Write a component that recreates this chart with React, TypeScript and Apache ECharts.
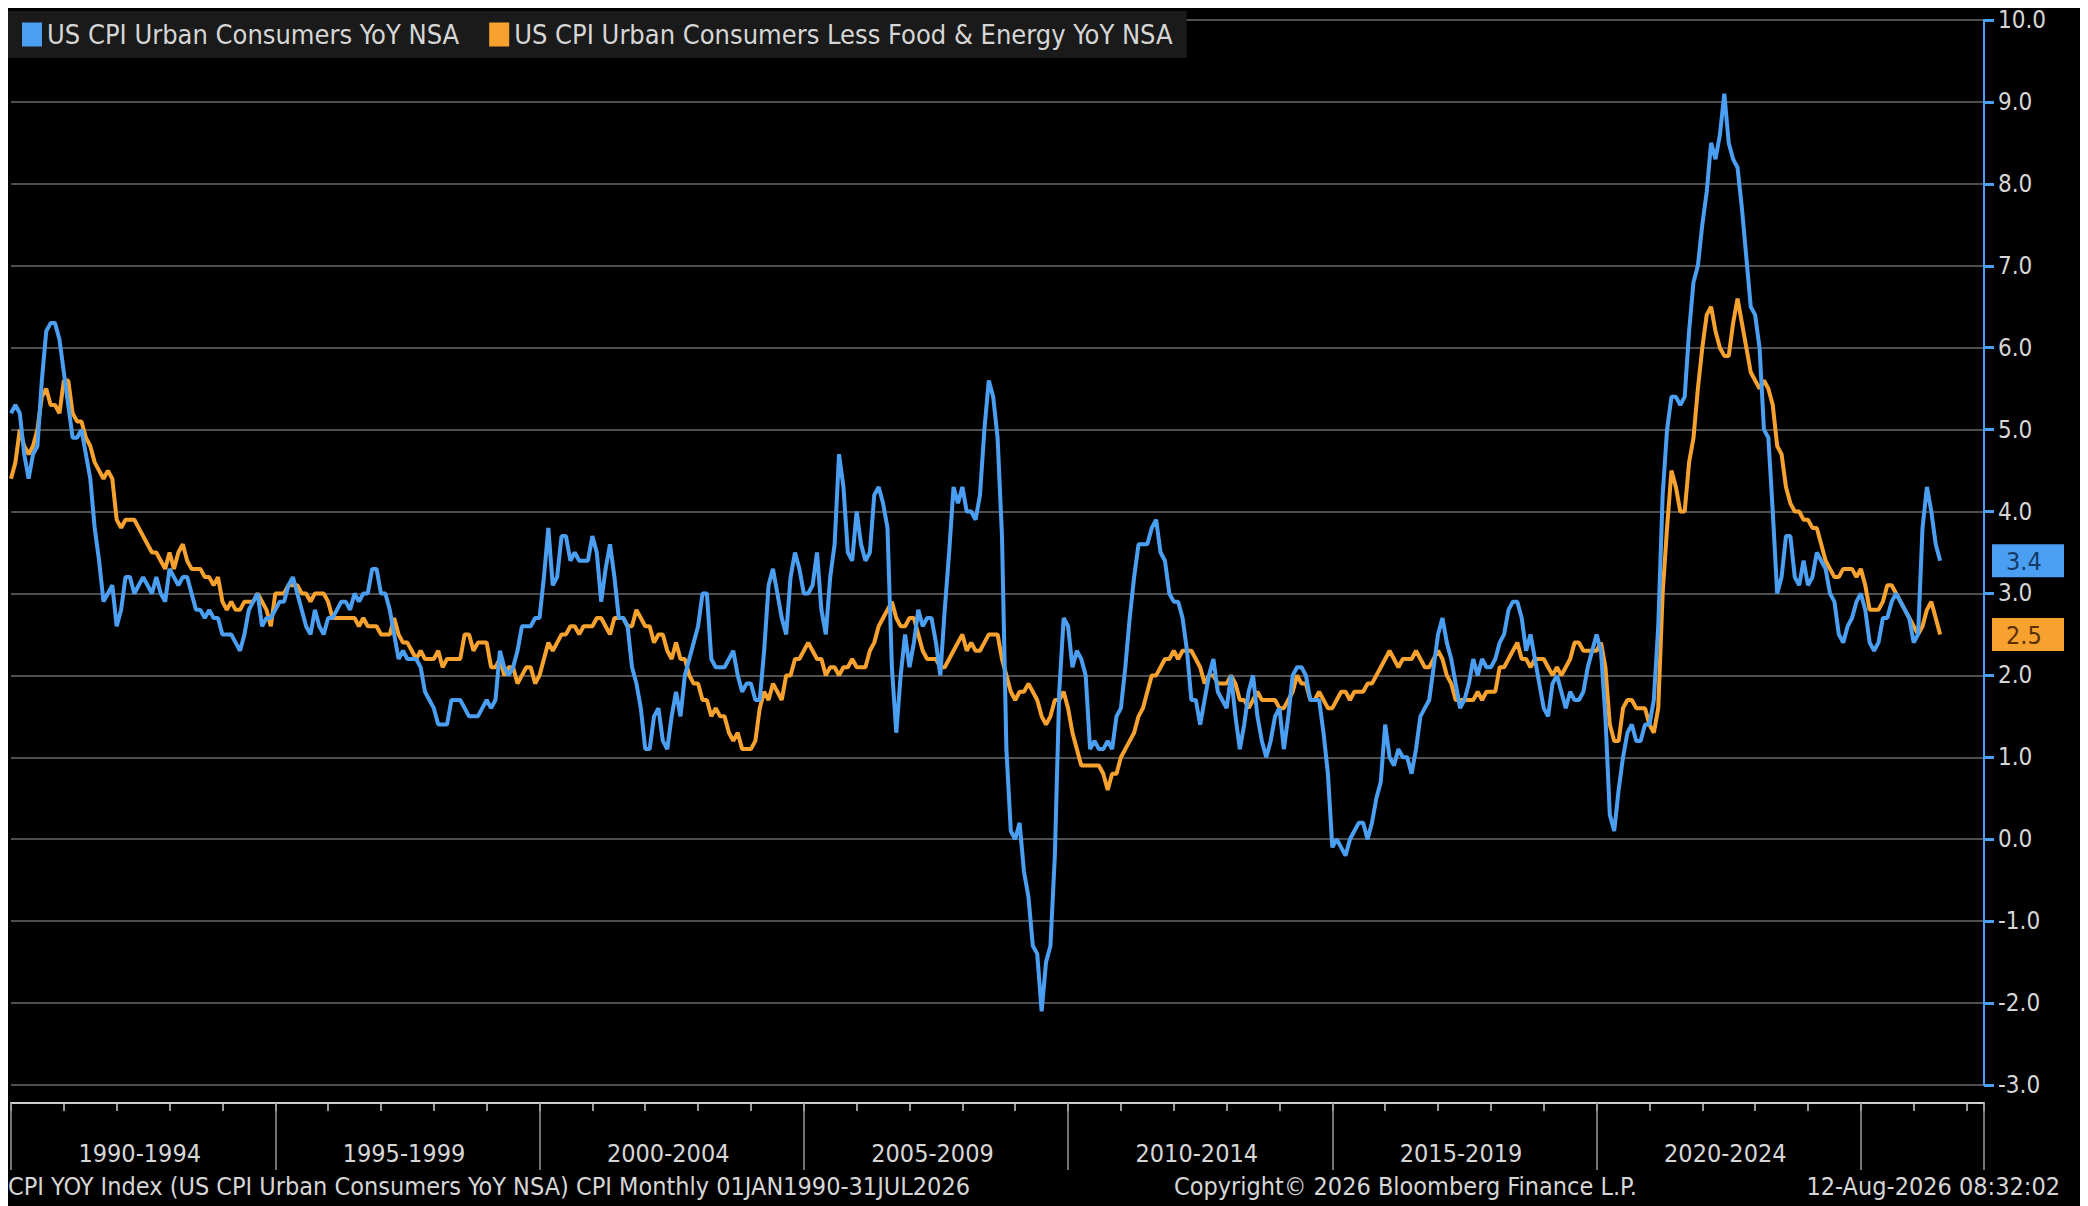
import { useEffect, useRef } from 'react'
import * as echarts from 'echarts'

const startYear = 1990

// US CPI Urban Consumers YoY NSA, monthly from Jan 1990
const headline = [
  5.2, 5.3, 5.2, 4.7, 4.4, 4.7, 4.8, 5.6, 6.2, 6.3, 6.3, 6.1,
  5.7, 5.3, 4.9, 4.9, 5.0, 4.7, 4.4, 3.8, 3.4, 2.9, 3.0, 3.1,
  2.6, 2.8, 3.2, 3.2, 3.0, 3.1, 3.2, 3.1, 3.0, 3.2, 3.0, 2.9,
  3.3, 3.2, 3.1, 3.2, 3.2, 3.0, 2.8, 2.8, 2.7, 2.8, 2.7, 2.7,
  2.5, 2.5, 2.5, 2.4, 2.3, 2.5, 2.8, 2.9, 3.0, 2.6, 2.7, 2.7,
  2.8, 2.9, 2.9, 3.1, 3.2, 3.0, 2.8, 2.6, 2.5, 2.8, 2.6, 2.5,
  2.7, 2.7, 2.8, 2.9, 2.9, 2.8, 3.0, 2.9, 3.0, 3.0, 3.3, 3.3,
  3.0, 3.0, 2.8, 2.5, 2.2, 2.3, 2.2, 2.2, 2.2, 2.1, 1.8, 1.7,
  1.6, 1.4, 1.4, 1.4, 1.7, 1.7, 1.7, 1.6, 1.5, 1.5, 1.5, 1.6,
  1.7, 1.6, 1.7, 2.3, 2.1, 2.0, 2.1, 2.3, 2.6, 2.6, 2.6, 2.7,
  2.7, 3.2, 3.8, 3.1, 3.2, 3.7, 3.7, 3.4, 3.5, 3.4, 3.4, 3.4,
  3.7, 3.5, 2.9, 3.3, 3.6, 3.2, 2.7, 2.7, 2.6, 2.1, 1.9, 1.6,
  1.1, 1.1, 1.5, 1.6, 1.2, 1.1, 1.5, 1.8, 1.5, 2.0, 2.2, 2.4,
  2.6, 3.0, 3.0, 2.2, 2.1, 2.1, 2.1, 2.2, 2.3, 2.0, 1.8, 1.9,
  1.9, 1.7, 1.7, 2.3, 3.1, 3.3, 3.0, 2.7, 2.5, 3.2, 3.5, 3.3,
  3.0, 3.0, 3.1, 3.5, 2.8, 2.5, 3.2, 3.6, 4.7, 4.3, 3.5, 3.4,
  4.0, 3.6, 3.4, 3.5, 4.2, 4.3, 4.1, 3.8, 2.1, 1.3, 2.0, 2.5,
  2.1, 2.4, 2.8, 2.6, 2.7, 2.7, 2.4, 2.0, 2.8, 3.5, 4.3, 4.1,
  4.3, 4.0, 4.0, 3.9, 4.2, 5.0, 5.6, 5.4, 4.9, 3.7, 1.1, 0.1,
  0.0, 0.2, -0.4, -0.7, -1.3, -1.4, -2.1, -1.5, -1.3, -0.2, 1.8, 2.7,
  2.6, 2.1, 2.3, 2.2, 2.0, 1.1, 1.2, 1.1, 1.1, 1.2, 1.1, 1.5,
  1.6, 2.1, 2.7, 3.2, 3.6, 3.6, 3.6, 3.8, 3.9, 3.5, 3.4, 3.0,
  2.9, 2.9, 2.7, 2.3, 1.7, 1.7, 1.4, 1.7, 2.0, 2.2, 1.8, 1.7,
  1.6, 2.0, 1.5, 1.1, 1.4, 1.8, 2.0, 1.5, 1.2, 1.0, 1.2, 1.5,
  1.6, 1.1, 1.5, 2.0, 2.1, 2.1, 2.0, 1.7, 1.7, 1.7, 1.3, 0.8,
  -0.1, 0.0, -0.1, -0.2, 0.0, 0.1, 0.2, 0.2, 0.0, 0.2, 0.5, 0.7,
  1.4, 1.0, 0.9, 1.1, 1.0, 1.0, 0.8, 1.1, 1.5, 1.6, 1.7, 2.1,
  2.5, 2.7, 2.4, 2.2, 1.9, 1.6, 1.7, 1.9, 2.2, 2.0, 2.2, 2.1,
  2.1, 2.2, 2.4, 2.5, 2.8, 2.9, 2.9, 2.7, 2.3, 2.5, 2.2, 1.9,
  1.6, 1.5, 1.9, 2.0, 1.8, 1.6, 1.8, 1.7, 1.7, 1.8, 2.1, 2.3,
  2.5, 2.3, 1.5, 0.3, 0.1, 0.6, 1.0, 1.3, 1.4, 1.2, 1.2, 1.4,
  1.4, 1.7, 2.6, 4.2, 5.0, 5.4, 5.4, 5.3, 5.4, 6.2, 6.8, 7.0,
  7.5, 7.9, 8.5, 8.3, 8.6, 9.1, 8.5, 8.3, 8.2, 7.7, 7.1, 6.5,
  6.4, 6.0, 5.0, 4.9, 4.0, 3.0, 3.2, 3.7, 3.7, 3.2, 3.1, 3.4,
  3.1, 3.2, 3.5, 3.4, 3.3, 3.0, 2.9, 2.5, 2.4, 2.6, 2.7, 2.9,
  3.0, 2.8, 2.4, 2.3, 2.4, 2.7, 2.7, 2.9, 3.0, 2.9, 2.8, 2.7,
  2.4, 2.5, 3.8, 4.3, 4.0, 3.6, 3.4,
]

// US CPI Urban Consumers Less Food & Energy YoY NSA
const core = [
  4.4, 4.6, 5.0, 4.8, 4.7, 4.8, 5.0, 5.4, 5.5, 5.3, 5.3, 5.2,
  5.6, 5.6, 5.2, 5.1, 5.1, 4.9, 4.8, 4.6, 4.5, 4.4, 4.5, 4.4,
  3.9, 3.8, 3.9, 3.9, 3.9, 3.8, 3.7, 3.6, 3.5, 3.5, 3.4, 3.3,
  3.5, 3.3, 3.5, 3.6, 3.4, 3.3, 3.3, 3.3, 3.2, 3.2, 3.1, 3.2,
  2.9, 2.8, 2.9, 2.8, 2.8, 2.9, 2.9, 2.9, 3.0, 2.9, 2.8, 2.6,
  3.0, 3.0, 3.0, 3.1, 3.1, 3.1, 3.0, 3.0, 2.9, 3.0, 3.0, 3.0,
  2.9, 2.7, 2.7, 2.7, 2.7, 2.7, 2.7, 2.6, 2.7, 2.6, 2.6, 2.6,
  2.5, 2.5, 2.5, 2.7, 2.5, 2.4, 2.4, 2.3, 2.2, 2.3, 2.2, 2.2,
  2.2, 2.3, 2.1, 2.2, 2.2, 2.2, 2.2, 2.5, 2.5, 2.3, 2.4, 2.4,
  2.4, 2.1, 2.1, 2.2, 2.0, 2.1, 2.1, 1.9, 2.0, 2.1, 2.1, 1.9,
  2.0, 2.2, 2.4, 2.3, 2.4, 2.5, 2.5, 2.6, 2.6, 2.5, 2.6, 2.6,
  2.6, 2.7, 2.7, 2.6, 2.5, 2.7, 2.7, 2.7, 2.6, 2.6, 2.8, 2.7,
  2.6, 2.6, 2.4, 2.5, 2.5, 2.3, 2.2, 2.4, 2.2, 2.2, 2.0, 1.9,
  1.9, 1.7, 1.7, 1.5, 1.6, 1.5, 1.5, 1.3, 1.2, 1.3, 1.1, 1.1,
  1.1, 1.2, 1.6, 1.8, 1.7, 1.9, 1.8, 1.7, 2.0, 2.0, 2.2, 2.2,
  2.3, 2.4, 2.3, 2.2, 2.2, 2.0, 2.1, 2.1, 2.0, 2.1, 2.1, 2.2,
  2.1, 2.1, 2.1, 2.3, 2.4, 2.6, 2.7, 2.8, 2.9, 2.7, 2.6, 2.6,
  2.7, 2.7, 2.5, 2.3, 2.2, 2.2, 2.2, 2.1, 2.1, 2.2, 2.3, 2.4,
  2.5, 2.3, 2.4, 2.3, 2.3, 2.4, 2.5, 2.5, 2.5, 2.2, 2.0, 1.8,
  1.7, 1.8, 1.8, 1.9, 1.8, 1.7, 1.5, 1.4, 1.5, 1.7, 1.7, 1.8,
  1.6, 1.3, 1.1, 0.9, 0.9, 0.9, 0.9, 0.9, 0.8, 0.6, 0.8, 0.8,
  1.0, 1.1, 1.2, 1.3, 1.5, 1.6, 1.8, 2.0, 2.0, 2.1, 2.2, 2.2,
  2.3, 2.2, 2.3, 2.3, 2.3, 2.2, 2.1, 1.9, 2.0, 2.0, 1.9, 1.9,
  1.9, 2.0, 1.9, 1.7, 1.7, 1.6, 1.7, 1.8, 1.7, 1.7, 1.7, 1.7,
  1.6, 1.6, 1.7, 1.8, 2.0, 1.9, 1.9, 1.7, 1.7, 1.8, 1.7, 1.6,
  1.6, 1.7, 1.8, 1.8, 1.7, 1.8, 1.8, 1.8, 1.9, 1.9, 2.0, 2.1,
  2.2, 2.3, 2.2, 2.1, 2.2, 2.2, 2.2, 2.3, 2.2, 2.1, 2.1, 2.2,
  2.3, 2.2, 2.0, 1.9, 1.7, 1.7, 1.7, 1.7, 1.7, 1.8, 1.7, 1.8,
  1.8, 1.8, 2.1, 2.1, 2.2, 2.3, 2.4, 2.2, 2.2, 2.1, 2.2, 2.2,
  2.2, 2.1, 2.0, 2.1, 2.0, 2.1, 2.2, 2.4, 2.4, 2.3, 2.3, 2.3,
  2.3, 2.4, 2.1, 1.4, 1.2, 1.2, 1.6, 1.7, 1.7, 1.6, 1.6, 1.6,
  1.4, 1.3, 1.6, 3.0, 3.8, 4.5, 4.3, 4.0, 4.0, 4.6, 4.9, 5.5,
  6.0, 6.4, 6.5, 6.2, 6.0, 5.9, 5.9, 6.3, 6.6, 6.3, 6.0, 5.7,
  5.6, 5.5, 5.6, 5.5, 5.3, 4.8, 4.7, 4.3, 4.1, 4.0, 4.0, 3.9,
  3.9, 3.8, 3.8, 3.6, 3.4, 3.3, 3.2, 3.2, 3.3, 3.3, 3.3, 3.2,
  3.3, 3.1, 2.8, 2.8, 2.8, 2.9, 3.1, 3.1, 3.0, 2.9, 2.8, 2.7,
  2.6, 2.5, 2.6, 2.8, 2.9, 2.7, 2.5,
]

const yTicks = [-3, -2, -1, 0, 1, 2, 3, 4, 5, 6, 7, 8, 9, 10]
const periodLabels = ['1990-1994', '1995-1999', '2000-2004', '2005-2009', '2010-2014', '2015-2019', '2020-2024']

const BLUE = '#4a9ff2'
const ORANGE = '#f7a22e'
const TEXT = '#d6d6d6'
const FONT = '"DejaVu Sans Condensed", "DejaVu Sans", sans-serif'

const toPairs = (arr: number[]) => arr.map((v, i) => [startYear + i / 12, v])

export default function App() {
  const chartRef = useRef<HTMLDivElement>(null)

  useEffect(() => {
    if (!chartRef.current) return
    const chart = echarts.init(chartRef.current, null, { renderer: 'svg' })
    const lastH = headline[headline.length - 1]
    const lastC = core[core.length - 1]

    const option = {
      animation: false,
      backgroundColor: '#000',
      textStyle: { fontFamily: FONT },
      legend: {
        left: 0,
        top: 3,
        padding: [10, 14, 10, 14],
        backgroundColor: '#1a1a1a',
        icon: 'rect',
        itemWidth: 20,
        itemHeight: 24,
        itemGap: 30,
        textStyle: { color: TEXT, fontSize: 27, fontFamily: FONT },
        data: ['US CPI Urban Consumers YoY NSA', 'US CPI Urban Consumers Less Food & Energy YoY NSA'],
      },
      grid: { left: 0, right: 96, top: 8, bottom: 121 },
      xAxis: [
        {
          type: 'value',
          position: 'bottom',
          min: 1990,
          max: 2027.33,
          interval: 1,
          offset: 18,
          splitLine: { show: false },
          axisLine: { show: true, onZero: false, lineStyle: { color: '#cfcfcf', width: 2 } },
          axisTick: { show: true, length: 8, lineStyle: { color: '#cfcfcf', width: 1.5 } },
          axisLabel: {
            color: TEXT,
            fontSize: 25,
            fontFamily: FONT,
            margin: 38,
            padding: [0, 0, 0, 46],
            formatter: (v: number) => {
              const y = Math.round(v)
              return y % 5 === 2 ? periodLabels.find((p) => p.startsWith(String(y - 2))) ?? '' : ''
            },
          },
        },
        {
          type: 'value',
          position: 'bottom',
          min: 1990,
          max: 2027.33,
          interval: 5,
          offset: 18,
          splitLine: { show: false },
          axisLine: { show: false, onZero: false },
          axisTick: { show: true, length: 67, lineStyle: { color: '#9a9a9a', width: 1.5 } },
          axisLabel: { show: false },
        },
      ],
      yAxis: [
        {
          type: 'value',
          position: 'right',
          min: -3,
          max: 10,
          interval: 1,
          axisLine: { show: true, lineStyle: { color: BLUE, width: 2 } },
          axisTick: { show: true, length: 10, lineStyle: { color: BLUE, width: 3 } },
          splitLine: { show: true, lineStyle: { color: '#6a6a6a', width: 1.5 } },
          axisLabel: {
            color: TEXT,
            fontSize: 24,
            fontFamily: FONT,
            margin: 14,
            formatter: (v: number) => (yTicks.includes(v) ? v.toFixed(1) : ''),
          },
        },
        {
          type: 'value',
          position: 'right',
          min: -3,
          max: 10,
          axisLine: { show: false },
          axisTick: { show: false },
          splitLine: { show: false },
          axisLabel: {
            customValues: [lastH, lastC],
            margin: 8,
            formatter: (v: number) => (v === lastH ? `{b|${v.toFixed(1)}}` : `{o|${v.toFixed(1)}}`),
            rich: {
              b: { backgroundColor: BLUE, color: '#123a66', fontSize: 25, fontFamily: FONT, padding: [5, 16, 3, 14], width: 42 },
              o: { backgroundColor: ORANGE, color: '#5a3000', fontSize: 25, fontFamily: FONT, padding: [5, 16, 3, 14], width: 42 },
            },
          },
        },
      ],
      series: [
        {
          name: 'US CPI Urban Consumers YoY NSA',
          type: 'line',
          data: toPairs(headline),
          showSymbol: false,
          lineStyle: { color: BLUE, width: 4 },
          itemStyle: { color: BLUE },
          z: 3,
        },
        {
          name: 'US CPI Urban Consumers Less Food & Energy YoY NSA',
          type: 'line',
          data: toPairs(core),
          showSymbol: false,
          lineStyle: { color: ORANGE, width: 4 },
          itemStyle: { color: ORANGE },
          z: 2,
        },
      ],
      graphic: [
        {
          type: 'text', left: 0, top: 1166,
          style: { text: 'CPI YOY Index (US CPI Urban Consumers YoY NSA) CPI Monthly 01JAN1990-31JUL2026', fill: TEXT, font: `25px ${FONT}` },
        },
        {
          type: 'text', left: 1166, top: 1166,
          style: { text: 'Copyright© 2026 Bloomberg Finance L.P.', fill: TEXT, font: `25px ${FONT}` },
        },
        {
          type: 'text', right: 20, top: 1166,
          style: { text: '12-Aug-2026 08:32:02', fill: TEXT, font: `25px ${FONT}` },
        },
      ],
    }

    chart.setOption(option)
    return () => chart.dispose()
  }, [])

  return <div ref={chartRef} style={{ width: 2072, height: 1198 }} />
}
